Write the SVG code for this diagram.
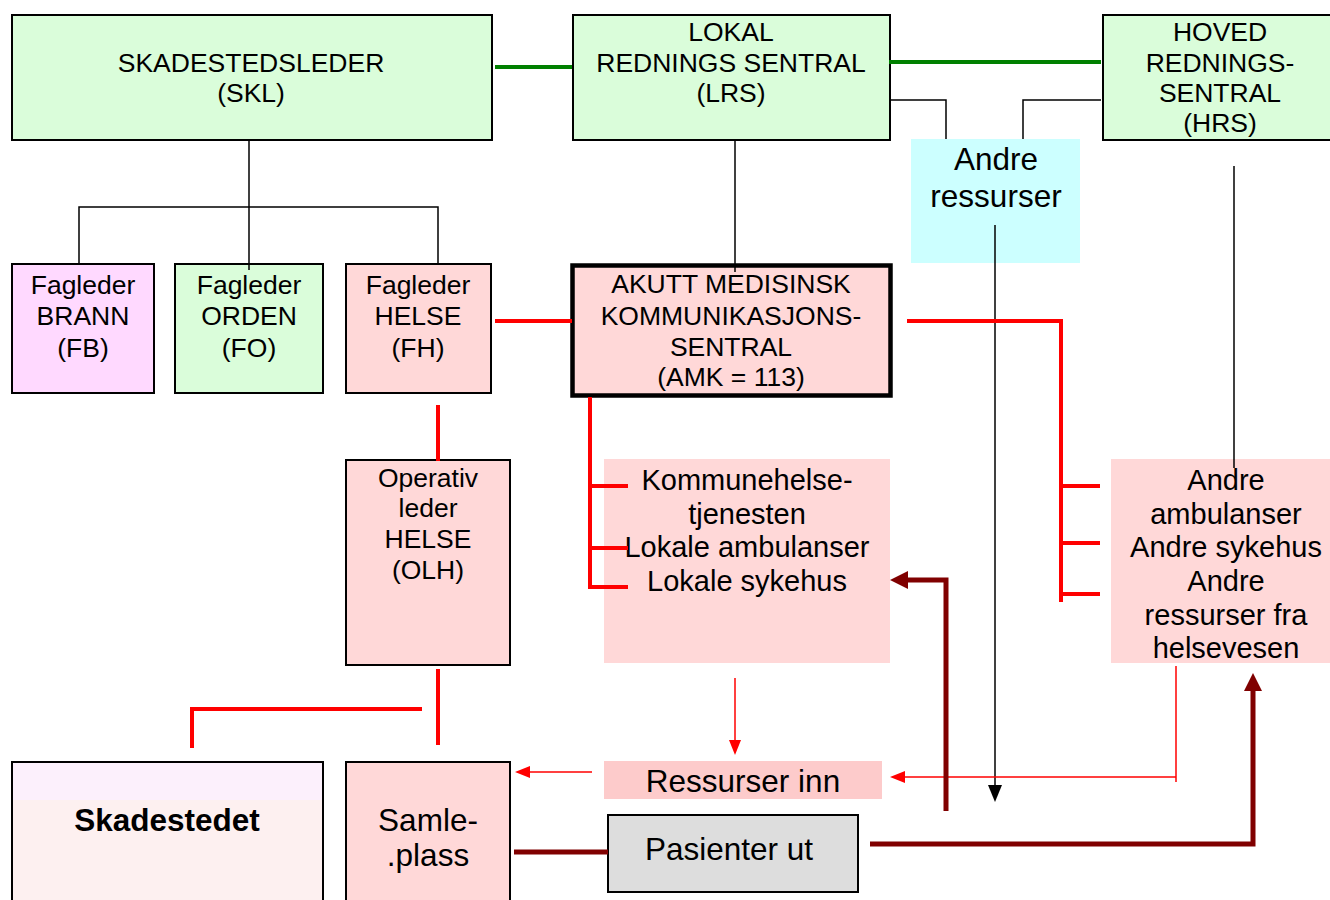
<svg xmlns="http://www.w3.org/2000/svg" width="1330" height="900" viewBox="0 0 1330 900">
<defs>
<style>
text{font-family:"Liberation Sans",Arial,sans-serif;fill:#000;text-anchor:middle}
.m{font-size:26.5px}
.l{font-size:31.5px}
.s{font-size:29px}
.b{font-weight:bold}
.box{stroke:#000;stroke-width:2}
.green{fill:#DAFDDA}
.pink{fill:#FFD8D8}
.lilac{fill:#FFD9FF}
.cyan{fill:#CCFFFF}
.grey{fill:#DDDDDD}
.rin{fill:#FDCBCB}
.gl{stroke:#008000;stroke-width:4;fill:none}
.bl{stroke:#000;stroke-width:1.5;fill:none}
.rt{stroke:#FF0000;stroke-width:4;fill:none}
.rn{stroke:#FF0000;stroke-width:1.5;fill:none}
.dr{stroke:#800000;stroke-width:5;fill:none}
</style>
<marker id="aDark" viewBox="0 0 18 18" refX="0" refY="9" markerWidth="18" markerHeight="18" markerUnits="userSpaceOnUse" orient="auto"><path d="M0,0 L18,9 L0,18 z" fill="#800000"/></marker>
<marker id="aRed" viewBox="0 0 15 12" refX="0" refY="6" markerWidth="15" markerHeight="12" markerUnits="userSpaceOnUse" orient="auto"><path d="M0,0 L15,6 L0,12 z" fill="#FF0000"/></marker>
<marker id="aBlack" viewBox="0 0 17 14" refX="0" refY="7" markerWidth="17" markerHeight="14" markerUnits="userSpaceOnUse" orient="auto"><path d="M0,0 L17,7 L0,14 z" fill="#000"/></marker>
</defs>
<rect width="1330" height="900" fill="#fff"/>

<g id="skl"><rect class="box green" x="12" y="15" width="480" height="125"/>
<text class="m" x="251" y="72">SKADESTEDSLEDER</text><text class="m" x="251" y="102">(SKL)</text></g>

<g id="lrs"><rect class="box green" x="573" y="15" width="317" height="125"/>
<text class="m" x="731" y="41">LOKAL</text><text class="m" x="731" y="72">REDNINGS SENTRAL</text><text class="m" x="731" y="102">(LRS)</text></g>

<g id="hrs"><rect class="box green" x="1103" y="15" width="232" height="125"/>
<text class="m" x="1220" y="41">HOVED</text><text class="m" x="1220" y="72">REDNINGS-</text><text class="m" x="1220" y="102">SENTRAL</text><text class="m" x="1220" y="132">(HRS)</text></g>

<g id="andre-ressurser"><rect class="cyan" x="911" y="139" width="169" height="124"/>
<text class="l" x="996" y="170">Andre</text><text class="l" x="996" y="207">ressurser</text></g>

<g id="fb"><rect class="box lilac" x="12" y="264" width="142" height="129"/>
<text class="m" x="83" y="294">Fagleder</text><text class="m" x="83" y="325">BRANN</text><text class="m" x="83" y="357">(FB)</text></g>

<g id="fo"><rect class="box green" x="175" y="264" width="148" height="129"/>
<text class="m" x="249" y="294">Fagleder</text><text class="m" x="249" y="325">ORDEN</text><text class="m" x="249" y="357">(FO)</text></g>

<g id="fh"><rect class="box pink" x="346" y="264" width="145" height="129"/>
<text class="m" x="418" y="294">Fagleder</text><text class="m" x="418" y="325">HELSE</text><text class="m" x="418" y="357">(FH)</text></g>

<g id="amk"><rect class="pink" x="572.5" y="265.5" width="318" height="130" stroke="#000" stroke-width="4.5"/>
<text class="m" x="731" y="293">AKUTT MEDISINSK</text><text class="m" x="731" y="325">KOMMUNIKASJONS-</text><text class="m" x="731" y="356">SENTRAL</text><text class="m" x="731" y="386">(AMK = 113)</text></g>

<g id="olh"><rect class="box pink" x="346" y="460" width="164" height="205"/>
<text class="m" x="428" y="487">Operativ</text><text class="m" x="428" y="517">leder</text><text class="m" x="428" y="548">HELSE</text><text class="m" x="428" y="579">(OLH)</text></g>

<g id="lokale"><rect class="pink" x="604" y="459" width="286" height="204"/>
<text class="s" x="747" y="490">Kommunehelse-</text><text class="s" x="747" y="524">tjenesten</text><text class="s" x="747" y="557">Lokale ambulanser</text><text class="s" x="747" y="591">Lokale sykehus</text></g>

<g id="andre-ambulanser"><rect class="pink" x="1111" y="459" width="222" height="204"/>
<text class="s" x="1226" y="490">Andre</text><text class="s" x="1226" y="524">ambulanser</text><text class="s" x="1226" y="557">Andre sykehus</text><text class="s" x="1226" y="591">Andre</text><text class="s" x="1226" y="625">ressurser fra</text><text class="s" x="1226" y="658">helsevesen</text></g>

<g id="skadestedet"><rect x="12" y="762" width="311" height="150" fill="#FDF0F0"/><rect x="12" y="762" width="311" height="38" fill="#FCF0FC"/>
<rect x="12" y="762" width="311" height="150" fill="none" stroke="#000" stroke-width="2"/>
<text class="l b" x="167" y="831">Skadestedet</text></g>

<g id="samleplass"><rect class="box pink" x="346" y="762" width="164" height="150"/>
<text class="l" x="428" y="831">Samle-</text><text class="l" x="428" y="866">.plass</text></g>

<g id="ressurser-inn"><rect class="rin" x="604" y="761" width="278" height="38"/>
<text class="l" x="743" y="792">Ressurser inn</text></g>

<g id="pasienter-ut"><rect class="box grey" x="608" y="815" width="250" height="77"/>
<text class="l" x="729" y="860">Pasienter ut</text></g>

<g id="connectors">
<line class="gl" x1="495" y1="67" x2="572" y2="67"/>
<line class="gl" x1="889" y1="62" x2="1101" y2="62"/>
<line class="bl" x1="249" y1="140" x2="249" y2="270"/>
<polyline class="bl" points="79,264 79,207 438,207 438,264"/>
<line class="bl" x1="735" y1="140" x2="735" y2="272"/>
<polyline class="bl" points="890,100 946,100 946,139"/>
<polyline class="bl" points="1101,100 1023,100 1023,139"/>
<line class="bl" x1="995" y1="225" x2="995" y2="785" marker-end="url(#aBlack)"/>
<line class="bl" x1="1234" y1="166" x2="1234" y2="468"/>
<line class="rt" x1="495" y1="321" x2="572" y2="321"/>
<line class="rt" x1="438" y1="405" x2="438" y2="461"/>
<polyline class="rt" points="590,397 590,587 628,587"/>
<line class="rt" x1="590" y1="486" x2="628" y2="486"/>
<line class="rt" x1="590" y1="548" x2="628" y2="548"/>
<polyline class="rt" points="907,321 1061,321 1061,602"/>
<line class="rt" x1="1061" y1="486" x2="1100" y2="486"/>
<line class="rt" x1="1061" y1="543" x2="1100" y2="543"/>
<line class="rt" x1="1061" y1="594" x2="1100" y2="594"/>
<line class="rt" x1="438" y1="669" x2="438" y2="745"/>
<polyline class="rt" points="422,709 192,709 192,748"/>
<line class="rn" x1="735" y1="678" x2="735" y2="740" marker-end="url(#aRed)"/>
<line class="rn" x1="592" y1="772" x2="530" y2="772" marker-end="url(#aRed)"/>
<polyline class="rn" points="1176,666 1176,782"/>
<line class="rn" x1="1176" y1="777" x2="905" y2="777" marker-end="url(#aRed)"/>
<polyline class="dr" points="946,811 946,580 908,580" marker-end="url(#aDark)"/>
<polyline class="dr" points="870,844 1253,844 1253,691" marker-end="url(#aDark)"/>
<line class="dr" x1="514" y1="852" x2="608" y2="852"/>
</g>
</svg>
